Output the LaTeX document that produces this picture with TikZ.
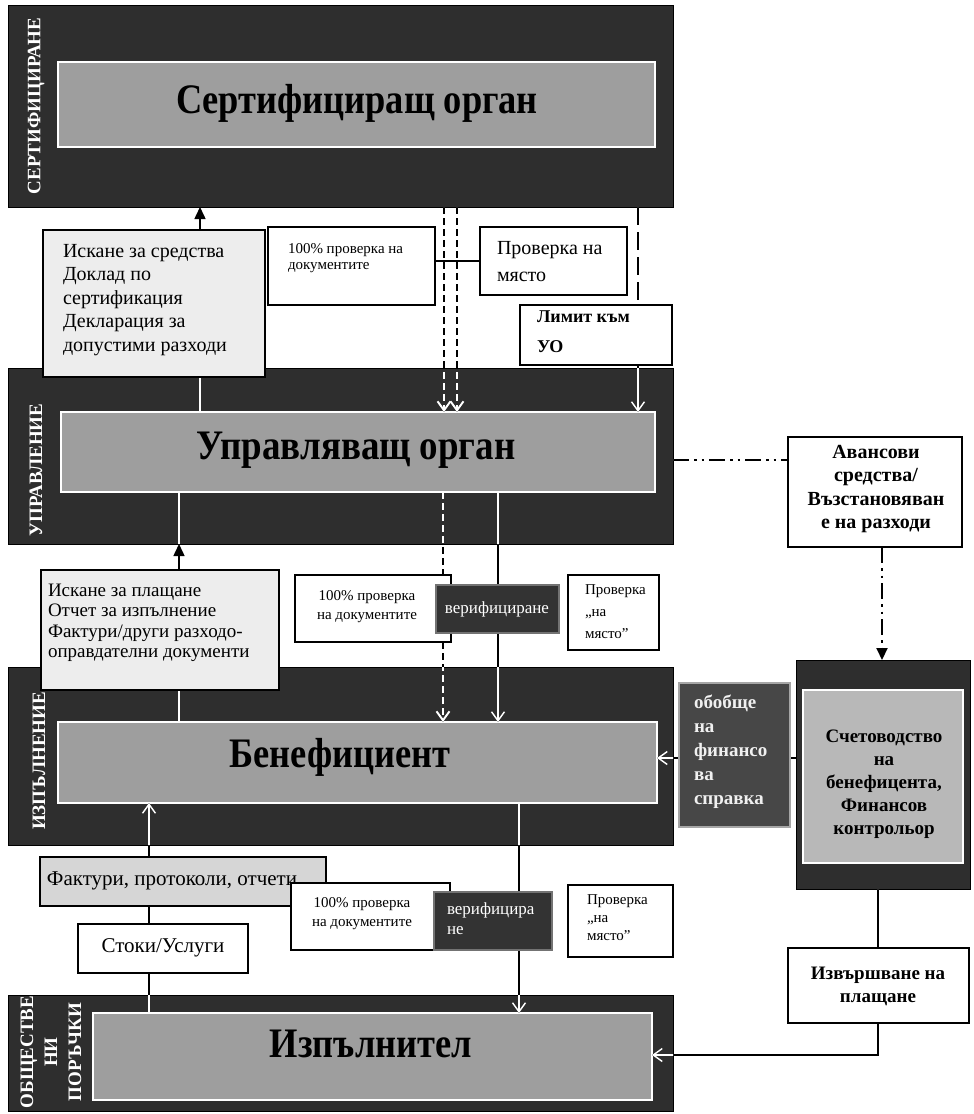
\documentclass[tikz,border=0pt]{standalone}
\usepackage{graphicx}
\usepackage{fontspec}
\setmainfont{Liberation Serif}
\usetikzlibrary{arrows.meta}

\pgfdeclarelayer{bandlayer}
\pgfdeclarelayer{linklayer}
\pgfsetlayers{bandlayer,linklayer,main}

% box given by its corners: style, name, x1, y1, x2, y2 (1 unit = 1pt, y downwards)
\newcommand\cornerbox[6]{%
  \node[#1, minimum width={(#5-#3)*1pt}, minimum height={(#6-#4)*1pt}]
    (#2) at ({(#3+#5)/2},{(#4+#6)/2}) {};}

\tikzset{
  every node/.style={inner sep=0pt, outer sep=0pt},
  band/.style={fill=black!82, draw=black, line width=1pt},
  innerbox/.style={fill=black!38, draw=white, line width=2pt},
  acctinnerbox/.style={fill=black!28, draw=white, line width=2pt},
  paper/.style={fill=white, draw=black, line width=1.5pt},
  lightbox/.style={fill=black!7, draw=black, line width=1.5pt},
  greybox/.style={fill=black!16, draw=black, line width=1.5pt},
  darkbox/.style={fill=black!80, draw=black!55, line width=1.5pt},
  summarybox/.style={fill=black!72, draw=black!35, line width=2pt},
  titletext/.style={font=\bfseries\fontsize{42}{42}\selectfont},
  bandlabel/.style={font=\bfseries\fontsize{19}{24}\selectfont, text=white, rotate=90, align=center},
  bodytext/.style={font=\fontsize{20}{23.5}\selectfont, align=left, anchor=north west},
  smalltext/.style={font=\fontsize{15}{19}\selectfont, align=left},
  boldtext/.style={font=\bfseries\fontsize{20}{23.5}\selectfont, align=center},
  veriftext/.style={font=\fontsize{17}{20}\selectfont, text=white},
  summarytext/.style={font=\bfseries\fontsize{19}{24}\selectfont, text=black!6, align=left, anchor=north west},
  link/.style={line width=1.5pt},
  pairdash/.style={line width=2pt, dash pattern=on 7pt off 4pt},
  longdash/.style={line width=2.5pt, dash pattern=on 18pt off 7pt},
  dashdotdot/.style={line width=2pt, dash pattern=on 16pt off 5pt on 2.5pt off 5pt on 2.5pt off 5pt},
  openV/.style={-{Straight Barb[length=9pt,width=13pt]}},
  solidtip/.style={-{Triangle[length=12pt,width=11pt]}},
}

% all connectors, drawn in the colour given
\newcommand\drawlinks[1]{%
  \begin{scope}[#1]
  \draw[link,solidtip] (reqfunds.north -| cA) -- (certband.south -| cA);
  \draw[link] (mgmtinner.north -| cA) -- (reqfunds.south -| cA);
  \draw[pairdash,openV] (certband.south -| cB) -- (mgmtinner.north -| cB);
  \draw[pairdash,openV] (certband.south -| cBB) -- (mgmtinner.north -| cBB);
  \draw[link] (docs1.east |- site1.west) -- (site1.west);
  \draw[longdash] (certband.south -| cC) -- (limit.north -| cC);
  \draw[link,openV] (limit.south -| cC) -- (mgmtinner.north -| cC);
  \draw[dashdotdot] (mgmtband.east |- cD) -- (advance.west |- cD);
  \draw[dashdotdot,solidtip] (advance.south -| cE) -- (acctband.north -| cE);
  \draw[link] (mgmtinner.south -| cF) -- (mgmtband.south -| cF);
  \draw[link,solidtip] (payreq.north -| cF) -- (mgmtband.south -| cF);
  \draw[link] (payreq.south -| cF) -- (beninner.north -| cF);
  \draw[pairdash] (mgmtinner.south -| cG) -- (docs2.north -| cG);
  \draw[pairdash,openV] (docs2.south -| cG) -- (beninner.north -| cG);
  \draw[link] (mgmtinner.south -| cH) -- (verif2.north -| cH);
  \draw[link,openV] (verif2.south -| cH) -- (beninner.north -| cH);
  \draw[link] (acctband.west |- cI) -- (summary.east |- cI);
  \draw[link,openV] (summary.west |- cI) -- (beninner.east |- cI);
  \draw[link,openV] (invoices.north -| cJ) -- (beninner.south -| cJ);
  \draw[link] (invoices.south -| cJ) -- (goods.north -| cJ);
  \draw[link] (goods.south -| cJ) -- (execinner.north -| cJ);
  \draw[link] (beninner.south -| cK) -- (verif3.north -| cK);
  \draw[link,openV] (verif3.south -| cK) -- (execinner.north -| cK);
  \draw[link] (acctband.south -| cL) -- (payment.north -| cL);
  \draw[link,openV] (payment.south -| cL) |- (execinner.east |- cM);
  \end{scope}}

\begin{document}
\begin{tikzpicture}[x=1pt,y=-1pt]
\useasboundingbox (0,0) rectangle (974,1114);

% x and y positions of the connectors
\coordinate (cA) at (200,0);
\coordinate (cB) at (444,0);
\coordinate (cBB) at (457,0);
\coordinate (cC) at (638,0);
\coordinate (cD) at (0,460);
\coordinate (cE) at (882,0);
\coordinate (cF) at (179,0);
\coordinate (cG) at (443,0);
\coordinate (cH) at (498,0);
\coordinate (cI) at (0,758);
\coordinate (cJ) at (149,0);
\coordinate (cK) at (519,0);
\coordinate (cL) at (878,0);
\coordinate (cM) at (0,1055);

\begin{pgfonlayer}{bandlayer}
  \fill[white] (0,0) rectangle (974,1114);
  % the four levels
  \cornerbox{band}{certband}{8}{5}{673}{207}
  \cornerbox{innerbox}{certinner}{58}{62}{655}{147}
  \cornerbox{band}{mgmtband}{8}{368}{673}{544}
  \cornerbox{innerbox}{mgmtinner}{61}{412}{655}{492}
  \cornerbox{band}{benband}{8}{667}{673}{845}
  \cornerbox{innerbox}{beninner}{58}{722}{657}{803}
  \cornerbox{band}{execband}{8}{995}{673}{1111}
  \cornerbox{innerbox}{execinner}{93}{1013}{652}{1100}
  \cornerbox{band}{acctband}{796}{660}{970}{889}
  \cornerbox{acctinnerbox}{acctinner}{803}{690}{963}{863}

  \node[bandlabel] (certlabel) at (36,106) {СЕРТИФИЦИРАНЕ};
  \node[bandlabel] (mgmtlabel) at (36,470) {УПРАВЛЕНИЕ};
  \node[bandlabel] (benlabel) at (39,761) {ИЗПЪЛНЕНИЕ};
  \node[bandlabel] (execlabel) at (51,1052) {ОБЩЕСТВЕ\\НИ\\ПОРЪЧКИ};

  \node[titletext] (certtitle) at (357,103) {\resizebox{362pt}{\height}{Сертифициращ орган}};
  \node[titletext] (mgmttitle) at (356,450) {\resizebox{319pt}{\height}{Управляващ орган}};
  \node[titletext] (bentitle) at (340,757) {\resizebox{221pt}{\height}{Бенефициент}};
  \node[titletext] (exectitle) at (371,1044) {\resizebox{202pt}{\height}{Изпълнител}};
\end{pgfonlayer}

% boxes and their texts
\cornerbox{lightbox}{reqfunds}{43}{230}{265}{377}
\node[bodytext] (reqfundstext) at (63,244)
  {Искане за средства\\Доклад по\\сертификация\\Декларация за\\допустими разходи};
\cornerbox{paper}{docs1}{268}{227}{435}{305}
\node[smalltext, anchor=north west, font=\fontsize{15}{16}\selectfont] (docs1text) at (288,244)
  {100\% проверка на\\документите};
\cornerbox{paper}{site1}{480}{227}{627}{295}
\node[bodytext, font=\fontsize{20}{27}\selectfont] (site1text) at (497,241) {Проверка на\\място};
\cornerbox{paper}{limit}{520}{305}{672}{365}
\node[anchor=north west, align=left, font=\bfseries\fontsize{18}{30}\selectfont] (limittext) at (537,311)
  {Лимит към\\УО};
\cornerbox{paper}{advance}{788}{437}{962}{547}
\node[boldtext] (advancetext) at (876,489) {Авансови\\средства/\\Възстановяван\\е на разходи};

\cornerbox{lightbox}{payreq}{41}{570}{279}{690}
\node[bodytext, font=\fontsize{19}{20.5}\selectfont] (payreqtext) at (48,584)
  {Искане за плащане\\Отчет за изпълнение\\Фактури/други разходо-\\оправдателни документи};
\cornerbox{paper}{docs2}{295}{575}{451}{642}
\node[smalltext, align=center] (docs2text) at (367,607) {100\% проверка\\на документите};
\cornerbox{darkbox}{verif2}{436}{585}{559}{633}
\node[veriftext] (verif2text) at (497,609) {верифициране};
\cornerbox{paper}{site2}{568}{575}{659}{650}
\node[smalltext, anchor=north west, font=\fontsize{15}{22}\selectfont] (site2text) at (585,585)
  {Проверка\\„на\\място”};

\cornerbox{summarybox}{summary}{679}{683}{790}{827}
\node[summarytext] (summarytext) at (694,695) {обобще\\на\\финансо\\ва\\справка};
\node[boldtext, font=\bfseries\fontsize{19}{23}\selectfont] (accttext) at (884,784)
  {Счетоводство\\на\\бенефицента,\\Финансов\\контрольор};

\cornerbox{greybox}{invoices}{40}{857}{326}{906}
\node[font=\fontsize{21}{24}\selectfont] (invoicestext) at (172,881) {Фактури, протоколи, отчети};
\cornerbox{paper}{docs3}{291}{883}{450}{950}
\node[smalltext, align=center] (docs3text) at (362,914) {100\% проверка\\на документите};
\cornerbox{darkbox}{verif3}{434}{892}{552}{950}
\node[veriftext, anchor=north west, align=left] (verif3text) at (447,903) {верифицира\\не};
\cornerbox{paper}{site3}{568}{885}{673}{957}
\node[smalltext, anchor=north west, font=\fontsize{15}{18}\selectfont] (site3text) at (587,895)
  {Проверка\\„на\\място”};
\cornerbox{paper}{goods}{78}{924}{248}{973}
\node[font=\fontsize{21}{24}\selectfont] (goodstext) at (163,948) {Стоки/Услуги};
\cornerbox{paper}{payment}{788}{948}{969}{1023}
\node[boldtext, font=\bfseries\fontsize{19}{23}\selectfont] (paymenttext) at (878,986)
  {Извършване на\\плащане};

% connectors: black outside, white where they cross the dark levels
\begin{pgfonlayer}{linklayer}
  \drawlinks{black}
  \begin{scope}
    \clip (8,5) rectangle (673,207) (8,368) rectangle (673,544)
          (8,667) rectangle (673,845) (8,995) rectangle (673,1111)
          (796,660) rectangle (970,889);
    \drawlinks{white}
  \end{scope}
\end{pgfonlayer}
\end{tikzpicture}
\end{document}
